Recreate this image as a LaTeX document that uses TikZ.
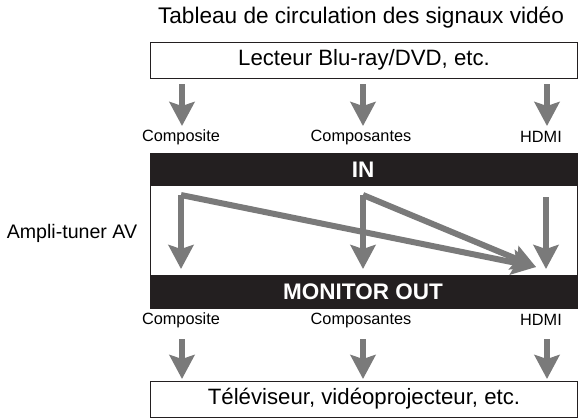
\documentclass[tikz,border=0pt]{standalone}
\usepackage{fontspec}
\setmainfont{Liberation Sans}
\usetikzlibrary{arrows.meta}
\definecolor{arrgray}{HTML}{7A7A7A}
\definecolor{barblack}{HTML}{231F20}
\tikzset{
  flow/.style={draw=arrgray, line width=6bp, -{Stealth[length=24bp,width=25bp,inset=4bp]}},
  boxw/.style={draw=barblack, line width=1bp, fill=white},
  bar/.style={fill=barblack, draw=barblack},
  big/.style={font=\fontsize{22.2bp}{26bp}\selectfont, inner sep=0pt},
  small/.style={font=\fontsize{16.3bp}{19bp}\selectfont, inner sep=0pt},
  bartext/.style={font=\fontsize{22.5bp}{26bp}\selectfont\bfseries, text=white, inner sep=0pt},
}
\begin{document}
\begin{tikzpicture}[x=1bp,y=-1bp]
\useasboundingbox (0,0) rectangle (587,418);
% title
\node[big, font=\fontsize{22.6bp}{26bp}\selectfont] (title) at (361,18) {Tableau de circulation des signaux vidéo};
% source box
\draw[boxw] (150,42) rectangle (577,78);
\node[big] (src) at (364,60) {Lecteur Blu-ray/DVD, etc.};
% amplifier
\draw[boxw] (150,185) rectangle (577,276);
\fill[bar] (150,153) rectangle (577,185);
\fill[bar] (150,275) rectangle (577,308);
\node[bartext] (in) at (363,169.5) {IN};
\node[bartext] (mon) at (363,291.5) {MONITOR OUT};
\node[font=\fontsize{19.6bp}{22bp}\selectfont, inner sep=0pt] (amp) at (72,233) {Ampli-tuner AV};
% labels
\node[small] (lc1) at (181,137) {Composite};
\node[small] (lc2) at (361,137) {Composantes};
\node[small] (lc3) at (541,137) {HDMI};
\node[small] (lo1) at (181,320) {Composite};
\node[small] (lo2) at (361,320) {Composantes};
\node[small] (lo3) at (541,320) {HDMI};
% sink box
\draw[boxw] (150,381) rectangle (577,417);
\node[big] (tv) at (364,399) {Téléviseur, vidéoprojecteur, etc.};
% coordinates
\foreach \n/\x in {1/182,2/363,3/547}{
  \coordinate (a\n) at (\x,84);
  \coordinate (b\n) at (\x,126);
  \coordinate (e\n) at (\x,339);
  \coordinate (f\n) at (\x,379);
}
\coordinate (i1) at (181,195);
\coordinate (i2) at (363,195);
\coordinate (i3) at (546,197);
\coordinate (o1) at (181,269);
\coordinate (o2) at (363,269);
\coordinate (o3) at (546,269);
\coordinate (x3) at (536,267);
% arrows
\foreach \n in {1,2,3}{
  \draw[flow] (a\n) -- (b\n);
  \draw[flow] (e\n) -- (f\n);
}
\draw[flow] (i1) -- (x3);
\draw[flow] (i2) -- (x3);
\draw[flow] (i1) -- (o1);
\draw[flow] (i2) -- (o2);
\draw[flow] (i3) -- (o3);
\end{tikzpicture}
\end{document}
